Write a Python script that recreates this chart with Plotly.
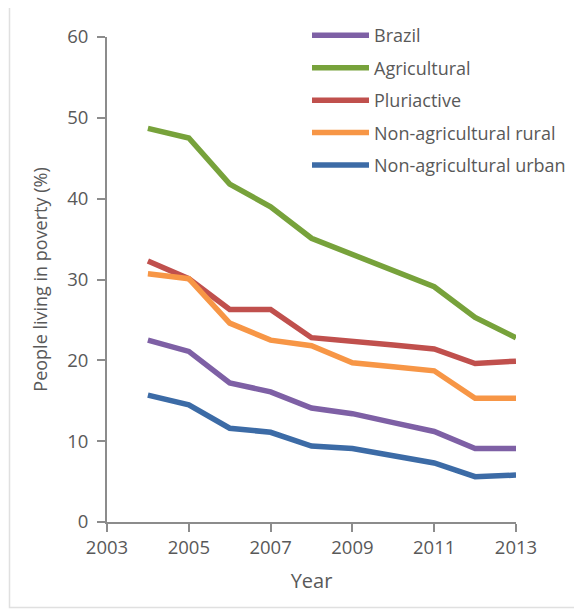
import plotly.graph_objects as go

years = [2004, 2005, 2006, 2007, 2008, 2009, 2010, 2011, 2012, 2013]
brazil = [22.5, 21.1, 17.2, 16.1, 14.1, 13.4, 12.3, 11.2, 9.1, 9.1]
agricultural = [48.7, 47.5, 41.8, 39.0, 35.1, 33.1, 31.1, 29.1, 25.3, 22.8]
pluriactive = [32.3, 30.1, 26.3, 26.3, 22.8, 22.4, 21.9, 21.4, 19.6, 19.9]
nonag_rural = [30.7, 30.1, 24.6, 22.5, 21.8, 19.7, 19.2, 18.7, 15.3, 15.3]
nonag_urban = [15.7, 14.5, 11.6, 11.1, 9.4, 9.1, 8.2, 7.3, 5.6, 5.8]

series_names = ["Brazil", "Agricultural", "Pluriactive", "Non-agricultural rural", "Non-agricultural urban"]
series_values = [brazil, agricultural, pluriactive, nonag_rural, nonag_urban]
colors = ["#7E60A5", "#77A23B", "#C0504D", "#F79646", "#3C6BA6"]

x_ticks = [2003, 2005, 2007, 2009, 2011, 2013]
y_ticks = [0, 10, 20, 30, 40, 50, 60]

FONT = "Open Sans"
TXT = "#595959"
AX = "#8C8C8C"

fig = go.Figure()
for name, vals, c in zip(series_names, series_values, colors):
    fig.add_trace(go.Scatter(x=years, y=vals, name=name, mode="lines", legendgroup=name,
                             line=dict(color=c, width=5.5)))

# page is drawn with an 8px body margin, so offsets compensate
PL, PT, PW, PH = 99, 29, 409, 485.5
fig.update_layout(
    width=582, height=609,
    margin=dict(l=PL, r=582 - PL - PW, t=PT, b=609 - PT - PH, autoexpand=False),
    paper_bgcolor="white", plot_bgcolor="white",
    font=dict(family=FONT, color=TXT, size=16),
    showlegend=True,
    legend=dict(x=(303 + 4 - 107) / PW, y=1.045 - 2 / PH, xanchor="left", yanchor="top",
                bgcolor="rgba(0,0,0,0)", font=dict(size=18, color=TXT),
                itemwidth=57, tracegroupgap=6, traceorder="grouped"),
    xaxis=dict(range=[2003, 2013], tickvals=x_ticks, ticktext=[str(t) for t in x_ticks],
               showgrid=False, zeroline=False, showline=True, linecolor=AX, linewidth=2,
               ticks="outside", ticklen=8, tickcolor=AX, tickwidth=2, automargin=False,
               tickfont=dict(size=18.5, color=TXT), ticklabelstandoff=0,
               title=dict(text="Year", font=dict(size=20, color=TXT), standoff=16)),
    yaxis=dict(range=[0, 60], tickvals=y_ticks,
               showgrid=False, zeroline=False, showline=True, linecolor=AX, linewidth=2,
               ticks="outside", ticklen=8, tickcolor=AX, tickwidth=2, automargin=False,
               tickfont=dict(size=18.5, color=TXT), ticklabelstandoff=5,
               title=dict(text="People living in poverty (%)", font=dict(size=18, color=TXT), standoff=15)),
    shapes=[dict(type="rect", xref="paper", yref="paper",
                 x0=-97.5 / PW, x1=(600 - 107) / PW, y0=-(608 - 522.5) / PH, y1=(522.5 - 4.5) / PH,
                 line=dict(color="#E0E0E0", width=1.5), fillcolor="rgba(0,0,0,0)", layer="below")],
)

fig.write_html("out.html")
